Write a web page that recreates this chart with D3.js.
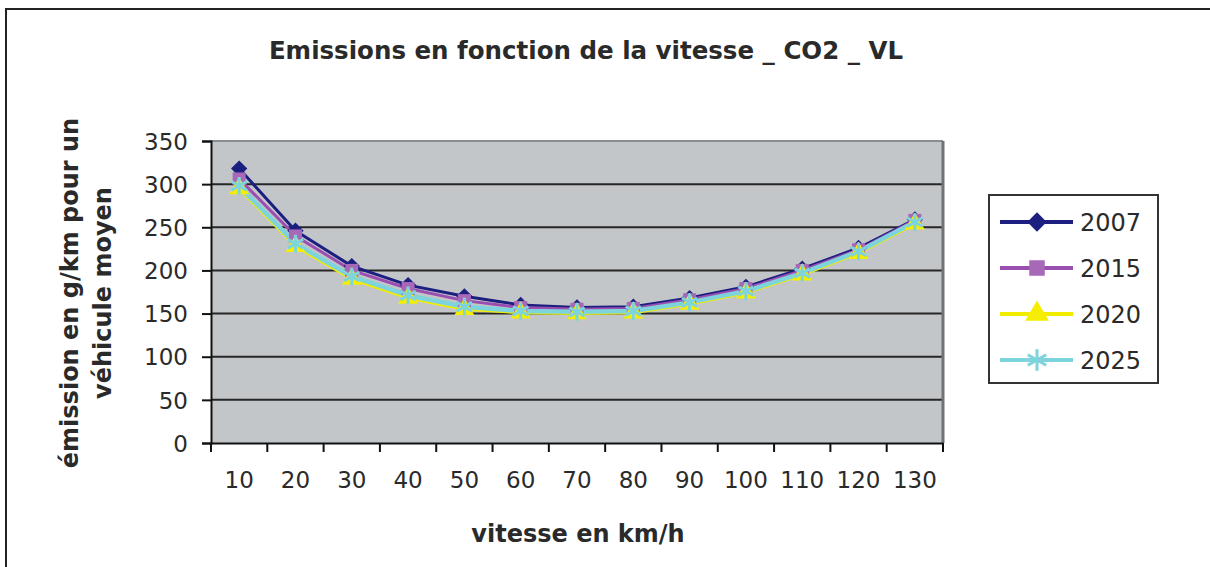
<!DOCTYPE html>
<html>
<head>
<meta charset="utf-8">
<script src="https://cdn.jsdelivr.net/npm/d3@7"></script>
<style>
  body { margin: 0; background: #fff; }
  text { font-family: "DejaVu Sans", Verdana, sans-serif; fill: #2a2a2a; }
</style>
</head>
<body>
<div id="chart"></div>
<script>
// vitesse (km/h)
var speeds = [10, 20, 30, 40, 50, 60, 70, 80, 90, 100, 110, 120, 130];

// emissions CO2 g/km, one array per year
var co2_2007 = [318, 246, 205, 183, 170, 160, 157, 158, 168, 181, 202, 226, 259];
var co2_2015 = [306, 240, 200, 179, 165, 157, 155, 156, 166, 179, 200, 224, 258];
var co2_2020 = [295, 228, 190, 168, 155, 151, 150, 151, 161, 174, 195, 220, 254];
var co2_2025 = [298, 231, 193, 171, 158, 153, 152, 153, 163, 176, 197, 222, 256];

var years = ["2007", "2015", "2020", "2025"];
var yTicks = [0, 50, 100, 150, 200, 250, 300, 350];

var series = [
    {name: years[0], values: co2_2007, color: "#1c1f80", fill: "#1c1f80", symbol: d3.symbolDiamond2, stroke: false, w: 3},
    {name: years[1], values: co2_2015, color: "#9a4fb0", fill: "#a868b8", symbol: d3.symbolSquare, stroke: false, w: 3},
    {name: years[2], values: co2_2020, color: "#f2ec00", fill: "#f5ee00", symbol: d3.symbolTriangle, stroke: false, w: 3},
    {name: years[3], values: co2_2025, color: "#7dd4dc", fill: "none", symbol: d3.symbolAsterisk, stroke: true, w: 4.5}
];

var width = 1210, height = 567;
var margin = {top: 141, right: 267, bottom: 124, left: 211};
var plotW = width - margin.left - margin.right;
var plotH = height - margin.top - margin.bottom;

var svg = d3.select("#chart").append("svg")
    .attr("width", width)
    .attr("height", height);

// outer frame (runs off the right/bottom edge like the scan)
svg.append("rect")
    .attr("x", 6).attr("y", 9)
    .attr("width", width).attr("height", height)
    .attr("fill", "#fff")
    .attr("stroke", "#222")
    .attr("stroke-width", 2);

// title
svg.append("text")
    .attr("x", 586).attr("y", 59)
    .attr("text-anchor", "middle")
    .style("font-size", "24.5px")
    .style("font-weight", "bold")
    .text("Emissions en fonction de la vitesse _ CO2 _ VL");

var x = d3.scaleBand()
    .domain(speeds)
    .range([margin.left, margin.left + plotW])
    .padding(0);

var y = d3.scaleLinear()
    .domain([0, 350])
    .range([margin.top + plotH, margin.top]);

// plot background
svg.append("rect")
    .attr("x", margin.left).attr("y", margin.top)
    .attr("width", plotW).attr("height", plotH)
    .attr("fill", "#c3c6c9");

// gridlines
svg.append("g").selectAll("line")
    .data(yTicks.filter(function(d){ return d > 0 && d < 350; }))
    .enter().append("line")
    .attr("x1", margin.left).attr("x2", margin.left + plotW)
    .attr("y1", function(d){ return y(d); })
    .attr("y2", function(d){ return y(d); })
    .attr("stroke", "#262626")
    .attr("stroke-width", 2);

// top + right border of the plot area (gray)
svg.append("line")
    .attr("x1", margin.left).attr("x2", margin.left + plotW)
    .attr("y1", y(350)).attr("y2", y(350))
    .attr("stroke", "#8a8d90").attr("stroke-width", 2);
svg.append("line")
    .attr("x1", margin.left + plotW).attr("x2", margin.left + plotW)
    .attr("y1", y(350)).attr("y2", y(0))
    .attr("stroke", "#6f7376").attr("stroke-width", 3);

// y axis
var yAxis = d3.axisLeft(y).tickValues(yTicks).tickSize(9).tickPadding(14);
var gy = svg.append("g")
    .attr("transform", "translate(" + margin.left + ",0)")
    .call(yAxis);
gy.select(".domain").attr("stroke", "#111").attr("stroke-width", 2);
gy.selectAll(".tick line").attr("stroke", "#111").attr("stroke-width", 2);
gy.selectAll(".tick text")
    .style("font-size", "23px")
    .attr("dy", "0.36em");

// x axis: labels centred in each band, ticks on the band edges
var xAxis = d3.axisBottom(x).tickSize(0).tickPadding(29);
var gx = svg.append("g")
    .attr("transform", "translate(0," + y(0) + ")")
    .call(xAxis);
gx.select(".domain").attr("stroke", "#111").attr("stroke-width", 2);
gx.selectAll(".tick text").style("font-size", "23px");

var edges = speeds.map(function(d){ return x(d); }).concat([x(speeds[speeds.length - 1]) + x.bandwidth()]);
svg.append("g").selectAll("line")
    .data(edges)
    .enter().append("line")
    .attr("x1", function(d){ return d; }).attr("x2", function(d){ return d; })
    .attr("y1", y(0)).attr("y2", y(0) + 9)
    .attr("stroke", "#111").attr("stroke-width", 2);

// axis titles
svg.append("text")
    .attr("x", 578).attr("y", 542)
    .attr("text-anchor", "middle")
    .style("font-size", "24px")
    .style("font-weight", "bold")
    .text("vitesse en km/h");

var yTitle = svg.append("g")
    .attr("transform", "translate(78,293) rotate(-90)");
yTitle.append("text")
    .attr("text-anchor", "middle")
    .style("font-size", "24px")
    .style("font-weight", "bold")
    .text("émission en g/km pour un");
yTitle.append("text")
    .attr("y", 33)
    .attr("text-anchor", "middle")
    .style("font-size", "24px")
    .style("font-weight", "bold")
    .text("véhicule moyen");

// lines
var line = d3.line()
    .x(function(d, i){ return x(speeds[i]) + x.bandwidth() / 2; })
    .y(function(d){ return y(d); });

svg.append("g").selectAll("path")
    .data(series)
    .enter().append("path")
    .attr("d", function(s){ return line(s.values); })
    .attr("fill", "none")
    .attr("stroke", function(s){ return s.color; })
    .attr("stroke-width", function(s){ return s.w; })
    .attr("stroke-linejoin", "round");

// markers
function drawMarker(g, s, size) {
    g.append("path")
        .attr("d", d3.symbol().type(s.symbol).size(size)())
        .attr("fill", s.fill)
        .attr("stroke", s.stroke ? s.color : "none")
        .attr("stroke-width", s.stroke ? 3 : 0);
}

series.forEach(function(s){
    var g = svg.append("g");
    s.values.forEach(function(v, i){
        var m = g.append("g")
            .attr("transform", "translate(" + (x(speeds[i]) + x.bandwidth() / 2) + "," + y(v) + ")");
        drawMarker(m, s, s.stroke ? 220 : 170);
    });
});

// legend
var legend = svg.append("g");
legend.append("rect")
    .attr("x", 989).attr("y", 195)
    .attr("width", 169).attr("height", 188)
    .attr("fill", "#fff")
    .attr("stroke", "#333")
    .attr("stroke-width", 2);

var legY = d3.scalePoint().domain(years).range([222, 360]);

series.forEach(function(s){
    var row = legend.append("g").attr("transform", "translate(0," + legY(s.name) + ")");
    row.append("line")
        .attr("x1", 1000).attr("x2", 1073)
        .attr("stroke", s.color).attr("stroke-width", 4);
    var m = row.append("g").attr("transform", "translate(1037,0)");
    drawMarker(m, s, s.stroke ? 320 : 240);
    row.append("text")
        .attr("x", 1080).attr("dy", "0.36em")
        .style("font-size", "24px")
        .text(s.name);
});
</script>
</body>
</html>
